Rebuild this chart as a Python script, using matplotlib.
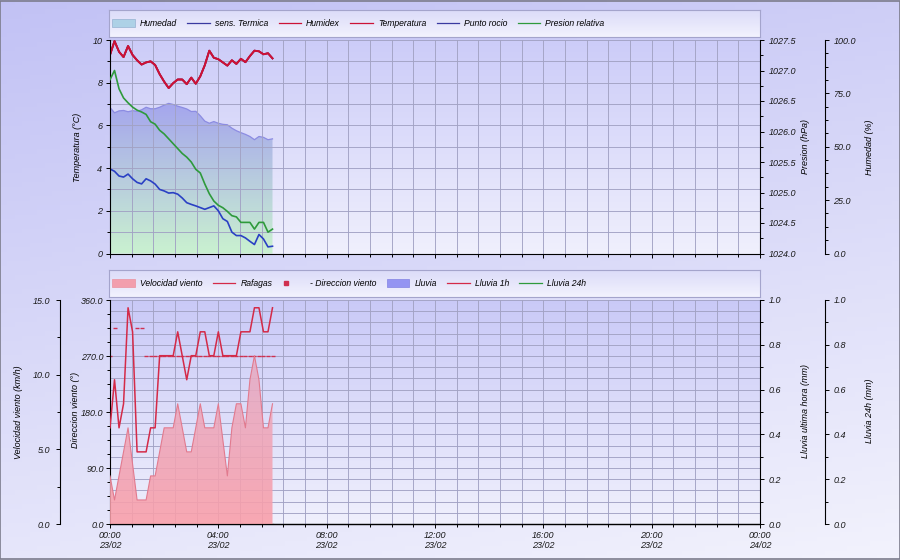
import numpy as np
import pandas as pd
import matplotlib
matplotlib.use("Agg")
import matplotlib.pyplot as plt
import matplotlib.dates as mdates
from matplotlib.ticker import MultipleLocator, FormatStrFormatter
from matplotlib.lines import Line2D
from matplotlib.patches import Patch, Rectangle
from matplotlib.legend_handler import HandlerLine2D

plt.rcParams['font.family'] = ['Liberation Sans', 'DejaVu Sans']
plt.rcParams['font.style'] = 'italic'
plt.rcParams['font.size'] = 6.5

# ---------------- data ----------------
times = pd.date_range('2024-02-23 00:00', periods=37, freq='10min')

temperatura = [9.3, 9.95, 9.45, 9.2, 9.72, 9.3, 9.05, 8.85, 8.95, 9.0, 8.83, 8.4, 8.05,
               7.75, 7.98, 8.15, 8.15, 7.93, 8.24, 7.95, 8.3, 8.82, 9.5, 9.17, 9.1, 8.95,
               8.8, 9.05, 8.88, 9.12, 8.96, 9.25, 9.5, 9.47, 9.33, 9.38, 9.14]
sens_termica = temperatura
humidex = temperatura
punto_rocio = [3.96, 3.85, 3.63, 3.58, 3.72, 3.5, 3.33, 3.26, 3.5, 3.4, 3.25, 3.0, 2.93,
               2.83, 2.85, 2.78, 2.6, 2.38, 2.3, 2.23, 2.15, 2.07, 2.15, 2.23, 2.0, 1.63,
               1.5, 1.0, 0.84, 0.84, 0.73, 0.57, 0.42, 0.89, 0.68, 0.31, 0.34]
presion = [1026.85, 1027.0, 1026.7, 1026.55, 1026.47, 1026.40, 1026.35, 1026.32, 1026.28,
           1026.16, 1026.12, 1026.02, 1025.96, 1025.88, 1025.80, 1025.72, 1025.64, 1025.58,
           1025.50, 1025.38, 1025.32, 1025.14, 1024.98, 1024.86, 1024.79, 1024.75, 1024.69,
           1024.62, 1024.60, 1024.51, 1024.51, 1024.51, 1024.40, 1024.51, 1024.51, 1024.35,
           1024.40]
humedad = [68.4, 65.9, 66.8, 67.0, 66.4, 66.9, 66.6, 67.3, 68.5, 67.8, 67.8, 68.5, 69.5,
           70.3, 69.8, 69.0, 68.4, 67.7, 66.5, 66.6, 64.5, 62.0, 61.0, 61.8, 61.0, 60.5,
           60.3, 58.7, 57.5, 56.6, 55.8, 54.8, 53.3, 54.8, 54.4, 53.3, 53.7]

vel_viento = [3.22, 1.61, 3.22, 4.83, 6.44, 4.02, 1.61, 1.61, 1.61, 3.22, 3.22, 4.83, 6.44,
              6.44, 6.44, 8.05, 6.44, 4.83, 4.83, 6.44, 8.05, 6.44, 6.44, 6.44, 8.05, 5.63,
              3.22, 6.44, 8.05, 8.05, 6.44, 9.66, 11.27, 9.66, 6.44, 6.44, 8.05]
rafagas = [6.44, 9.66, 6.44, 8.05, 14.48, 12.87, 4.83, 4.83, 4.83, 6.44, 6.44, 11.27, 11.27,
           11.27, 11.27, 12.87, 11.27, 9.66, 11.27, 11.27, 12.87, 12.87, 11.27, 11.27, 12.87,
           11.27, 11.27, 11.27, 11.27, 12.87, 12.87, 12.87, 14.48, 14.48, 12.87, 12.87, 14.48]
nan = np.nan
dir_viento = [270, 315, nan, nan, nan, nan, 315, 315, 270, 270, 270, 270, 270, 270, 270,
              270, 270, 270, 270, 270, 270, 270, 270, 270, 270, 270, 270, 270, 270, 270,
              270, 270, 270, 270, 270, 270, 270]
lluvia_1h = [0.0] * 37
lluvia_24h = [0.0] * 37

top_legend_labels = ['Humedad', 'sens. Termica', 'Humidex', 'Temperatura', 'Punto rocio',
                     'Presion relativa']
bot_legend_labels = ['Velocidad viento', 'Rafagas', '- Direccion viento', 'Lluvia',
                     'Lluvia 1h', 'Lluvia 24h']

# ---------------- styling ----------------
C_TEMP = '#cc1236'
C_DEW = '#2a40c4'
C_PRES = '#2e9a3c'
C_GUST = '#d42a48'
C_DIR = '#d03050'
GRID_C = '#a2a2c4'
W, H = 900, 560

fig = plt.figure(figsize=(9, 5.6), dpi=100)

# figure background gradient
bg = fig.add_axes([0, 0, 1, 1], zorder=-10)
bg.set_axis_off()
yy, xx = np.mgrid[0:1:120j, 0:1:120j]
tt = 0.75 * yy + 0.25 * xx
c0 = np.array([0.76, 0.76, 0.96]); c1 = np.array([0.95, 0.95, 0.99])
bg.imshow(c0 + (c1 - c0) * tt[..., None], extent=[0, 1, 0, 1], aspect='auto', origin='upper')
bg.set_xlim(0, 1); bg.set_ylim(0, 1)
bg.add_patch(Rectangle((0.0005, 0.001), 0.999, 0.998, transform=bg.transAxes, fill=False,
                       edgecolor='#7c7c8c', lw=1.2))


def px_rect(x0, y0, x1, y1):
    return [x0 / W, 1 - y1 / H, (x1 - x0) / W, (y1 - y0) / H]


def vgrad(top, bottom, n=256):
    g = np.linspace(0, 1, n)[:, None, None]
    top = np.array(top); bottom = np.array(bottom)
    return top + (bottom - top) * g


def back_axes(rect, top, bottom, z):
    a = fig.add_axes(rect, zorder=z)
    a.imshow(vgrad(top, bottom), extent=[0, 1, 0, 1], aspect='auto', origin='upper')
    a.set_xlim(0, 1); a.set_ylim(0, 1)
    a.set_axis_off()
    return a


def gradient_fill(ax, x, y, top_c, bot_c, ymax, alpha=1.0, z=1):
    poly = ax.fill_between(x, 0, y, facecolor='none', edgecolor='none', zorder=z)
    im = ax.imshow(vgrad(top_c, bot_c), extent=[x[0], x[-1], 0, ymax], aspect='auto',
                   origin='upper', alpha=alpha, zorder=z)
    im.set_clip_path(poly.get_paths()[0], transform=ax.transData)


def style_ticks(ax):
    ax.tick_params(which='major', length=3, width=0.7, labelsize=6.5, color='black',
                   labelcolor='#1a1a1a')
    ax.tick_params(which='minor', length=2, width=0.7, color='black')


x = mdates.date2num(times)
xmin = mdates.date2num(pd.Timestamp('2024-02-23 00:00'))
xmax = mdates.date2num(pd.Timestamp('2024-02-24 00:00'))

top_rect = px_rect(110, 40, 760, 253.5)
bot_rect = px_rect(110, 300, 760, 524)

# ================= TOP PANEL =================
back_axes(top_rect, (0.80, 0.80, 0.975), (0.94, 0.94, 0.99), 0.5)
ax_t = fig.add_axes(top_rect)
ax_h = ax_t.twinx()
ax_p = ax_t.twinx()
ax_h.set_zorder(1); ax_t.set_zorder(2); ax_p.set_zorder(3)
for a in (ax_t, ax_h, ax_p):
    a.patch.set_visible(False)

gradient_fill(ax_h, x, humedad, (0.63, 0.63, 0.93), (0.78, 0.95, 0.80), 71.0, alpha=0.92)
ax_h.plot(x, humedad, color='#8c8ce2', lw=0.9)

ax_t.plot(x, sens_termica, color='#3a3aa0', lw=1.3)
ax_t.plot(x, humidex, color=C_TEMP, lw=1.3)
ax_t.plot(x, temperatura, color=C_TEMP, lw=1.3)
ax_t.plot(x, punto_rocio, color=C_DEW, lw=1.2)
ax_p.plot(x, presion, color=C_PRES, lw=1.2)

ax_t.set_xlim(xmin, xmax)
ax_t.set_ylim(0, 10)
ax_p.set_ylim(1024.0, 1027.5)
ax_h.set_ylim(0, 100)

ax_t.xaxis.set_major_locator(mdates.HourLocator(byhour=range(0, 24, 4)))
ax_t.xaxis.set_minor_locator(MultipleLocator(1 / 30))
ax_t.tick_params(labelbottom=False)
ax_t.yaxis.set_major_locator(MultipleLocator(2))
ax_t.yaxis.set_minor_locator(MultipleLocator(1))
ax_t.yaxis.set_major_formatter(FormatStrFormatter('%d'))
ax_t.grid(which='both', color=GRID_C, lw=0.65)
ax_t.tick_params(axis='x', which='both', length=3)

ax_p.yaxis.set_major_locator(MultipleLocator(0.5))
ax_p.yaxis.set_minor_locator(MultipleLocator(0.25))
ax_p.yaxis.set_major_formatter(FormatStrFormatter('%.1f'))
ax_h.yaxis.set_major_locator(MultipleLocator(25))
ax_h.yaxis.set_minor_locator(MultipleLocator(6.25))
ax_h.yaxis.set_major_formatter(FormatStrFormatter('%.1f'))
ax_h.spines['right'].set_position(('outward', 65 * 0.72))

for a in (ax_t, ax_h, ax_p):
    style_ticks(a)
    a.spines['top'].set_visible(False)
ax_t.spines['right'].set_visible(False)
for s in ('left', 'bottom'):
    ax_h.spines[s].set_visible(False)
    ax_p.spines[s].set_visible(False)
ax_t.tick_params(axis='y', pad=2.5)
ax_p.tick_params(axis='y', pad=3.5)
ax_h.tick_params(axis='y', pad=3)

# ================= BOTTOM PANEL =================
back_axes(bot_rect, (0.79, 0.79, 0.97), (0.94, 0.94, 0.99), 0.5)
ax_d = fig.add_axes(bot_rect)
ax_r1 = ax_d.twinx()
ax_r2 = ax_d.twinx()
ax_v = ax_d.twinx()
ax_d.set_zorder(1); ax_r1.set_zorder(2); ax_r2.set_zorder(2.1); ax_v.set_zorder(3)
for a in (ax_d, ax_r1, ax_r2, ax_v):
    a.patch.set_visible(False)

ax_d.set_xlim(xmin, xmax)
ax_d.set_ylim(0, 360)
for gy in np.arange(0, 361, 18):
    ax_d.axhline(gy, color=GRID_C, lw=0.65, zorder=0.5)
ax_d.grid(which='both', axis='x', color=GRID_C, lw=0.65)
ax_d.plot(x, dir_viento, ls='none', marker='_', ms=3.2, mew=1.0, color=C_DIR)

ax_r1.plot(x, lluvia_1h, color='#d03050', lw=0.8)
ax_r2.plot(x, lluvia_24h, color=C_PRES, lw=0.8)
ax_r1.set_ylim(0, 1)
ax_r2.set_ylim(0, 1)

gradient_fill(ax_v, x, vel_viento, (0.90, 0.68, 0.78), (0.98, 0.62, 0.66), 11.5, alpha=0.88)
ax_v.plot(x, vel_viento, color='#e27a8e', lw=0.8)
ax_v.plot(x, rafagas, color=C_GUST, lw=1.1)
ax_v.set_ylim(0, 15)

ax_d.xaxis.set_major_locator(mdates.HourLocator(byhour=range(0, 24, 4)))
ax_d.xaxis.set_minor_locator(MultipleLocator(1 / 30))
ax_d.xaxis.set_major_formatter(mdates.DateFormatter('%H:%M\n%d/%m'))
ax_d.tick_params(axis='x', which='both', length=3)
ax_d.yaxis.set_major_locator(MultipleLocator(90))
ax_d.yaxis.set_minor_locator(MultipleLocator(22.5))
ax_d.yaxis.set_major_formatter(FormatStrFormatter('%.1f'))

ax_v.yaxis.tick_left()
ax_v.spines['left'].set_position(('outward', 50 * 0.72))
ax_v.yaxis.set_major_locator(MultipleLocator(5))
ax_v.yaxis.set_minor_locator(MultipleLocator(2.5))
ax_v.yaxis.set_major_formatter(FormatStrFormatter('%.1f'))

for a in (ax_r1, ax_r2):
    a.yaxis.set_major_locator(MultipleLocator(0.2))
    a.yaxis.set_minor_locator(MultipleLocator(0.1))
    a.yaxis.set_major_formatter(FormatStrFormatter('%.1f'))
ax_r2.spines['right'].set_position(('outward', 65 * 0.72))

for a in (ax_d, ax_r1, ax_r2, ax_v):
    style_ticks(a)
    a.spines['top'].set_visible(False)
ax_d.spines['right'].set_visible(False)
ax_v.spines['right'].set_visible(False)
ax_r1.spines['left'].set_visible(False)
ax_r2.spines['left'].set_visible(False)
ax_d.tick_params(axis='y', pad=1.5)
ax_v.tick_params(axis='y', pad=4)
ax_r1.tick_params(axis='y', pad=3.5)
ax_r2.tick_params(axis='y', pad=3)
ax_d.tick_params(axis='x', pad=2)

# ---------------- axis labels ----------------
def ylab(xp, yp, s):
    fig.text(xp / W, 1 - yp / H, s, rotation=90, ha='center', va='center', fontsize=6.5)

ylab(78, 147, 'Temperatura (°C)')
ylab(805, 147, 'Presion (hPa)')
ylab(870, 147, 'Humedad (%)')
ylab(19, 412, 'Velocidad viento (km/h)')
ylab(75.5, 410, 'Direccion viento (°)')
ylab(805, 411, 'Lluvia ultima hora (mm)')
ylab(870, 411, 'Lluvia 24h (mm)')

# ---------------- legends ----------------
class LeftMarkerHandler(HandlerLine2D):
    def get_xdata(self, legend, xdescent, ydescent, width, height, fontsize):
        xd = np.array([-xdescent + 0.15 * width])
        return xd, xd


def legend_box(y0, handles, labels, hmap=None):
    lax = fig.add_axes(px_rect(109, y0, 760, y0 + 27), zorder=5)
    lax.imshow(vgrad((0.86, 0.86, 0.975), (0.95, 0.95, 0.995)), extent=[0, 1, 0, 1],
               aspect='auto', origin='upper')
    lax.set_xlim(0, 1); lax.set_ylim(0, 1)
    lax.set_xticks([]); lax.set_yticks([])
    for s in lax.spines.values():
        s.set_color('#a4a4cc'); s.set_linewidth(0.8)
    lax.legend(handles, labels, loc='center left', ncol=6, frameon=False, fontsize=6.2,
               handlelength=2.6, handleheight=0.95, handletextpad=0.6, columnspacing=1.2,
               borderaxespad=0.1, borderpad=0.3, handler_map=hmap)

top_handles = [Patch(facecolor=(0.68, 0.82, 0.90), edgecolor=(0.62, 0.72, 0.84), lw=0.6),
               Line2D([], [], color='#3a3aa0', lw=0.9),
               Line2D([], [], color=C_TEMP, lw=0.9),
               Line2D([], [], color=C_TEMP, lw=0.9),
               Line2D([], [], color='#3a3aa0', lw=0.9),
               Line2D([], [], color=C_PRES, lw=0.9)]
dir_handle = Line2D([], [], ls='none', marker='s', ms=2.2, color=C_DIR)
bot_handles = [Patch(facecolor=(0.95, 0.62, 0.68), edgecolor=(0.92, 0.60, 0.66), lw=0.6),
               Line2D([], [], color=C_GUST, lw=0.9),
               dir_handle,
               Patch(facecolor=(0.58, 0.58, 0.95), edgecolor=(0.55, 0.55, 0.90), lw=0.6),
               Line2D([], [], color=C_GUST, lw=0.9),
               Line2D([], [], color=C_PRES, lw=0.9)]
legend_box(10, top_handles, top_legend_labels)
legend_box(270, bot_handles, bot_legend_labels, {dir_handle: LeftMarkerHandler()})

fig.savefig('out.png', dpi=100)
